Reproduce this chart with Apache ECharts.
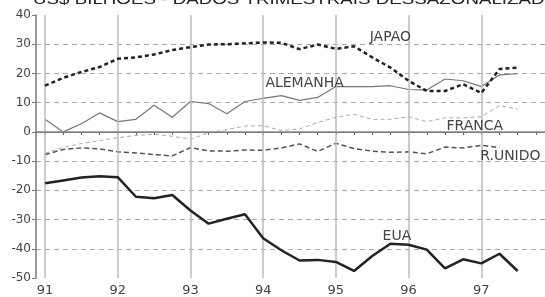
<!DOCTYPE html>
<html>
<head>
<meta charset="utf-8">
<script src="https://cdn.jsdelivr.net/npm/echarts@6/dist/echarts.min.js"></script>
<style>
  html, body { margin: 0; padding: 0; background: #fff; }
  #chart { width: 545px; height: 297px; }
</style>
</head>
<body>
<div id="chart"></div>
<script>
// trimestres 91T1 .. 97T3 (em anos)
const quarters = [91, 91.25, 91.5, 91.75, 92, 92.25, 92.5, 92.75, 93, 93.25, 93.5, 93.75,
  94, 94.25, 94.5, 94.75, 95, 95.25, 95.5, 95.75, 96, 96.25, 96.5, 96.75, 97, 97.25, 97.5];
const years = [91, 92, 93, 94, 95, 96, 97];

const japao = [15.8, 18.5, 20.5, 22.2, 25, 25.5, 26.5, 28, 29, 29.9, 30, 30.3,
  30.6, 30.5, 28.3, 29.9, 28.4, 29.3, 25.5, 22, 17.5, 14, 14, 16.3, 13.3, 21.5, 22];
const alemanha = [4.3, 0, 2.8, 6.5, 3.5, 4.3, 9.1, 5, 10.4, 9.7, 6.2, 10.4,
  11.5, 12.4, 10.8, 11.8, 15.5, 15.5, 15.5, 15.8, 14.5, 14.3, 18.1, 17.5, 15.5, 19.5, 19.9];
const franca = [-7.3, -5.3, -4, -3, -2, -1.2, -0.8, -1.5, -2.5, -0.3, 0.8, 2,
  2.1, 0.5, 1, 3.2, 5, 6, 4.3, 4.3, 5.2, 3.5, 4.8, 4.8, 5.2, 9, 7.8];
const runido = [-7.8, -6, -5.5, -5.8, -6.8, -7.2, -7.8, -8.2, -5.4, -6.5, -6.6, -6.2,
  -6.3, -5.5, -4.1, -6.7, -3.9, -5.7, -6.6, -7, -6.8, -7.5, -5.2, -5.5, -4.6, -5.4];
const eua = [-17.6, -16.6, -15.6, -15.2, -15.5, -22.2, -22.7, -21.6, -26.9, -31.4, -29.7, -28.2,
  -36.4, -40.5, -44, -43.8, -44.5, -47.6, -42.5, -38.3, -38.6, -40.3, -46.7, -43.6, -45, -41.7, -47.6];

const tickQuarters = quarters.concat([97.75]);

function pairs(vals) {
  return vals.map((v, i) => [quarters[i], v]);
}

// rotulo de serie, ancorado em coordenadas de dados
function tag(name, x, y) {
  return {
    symbol: 'circle',
    symbolSize: 0,
    silent: true,
    label: {
      show: true, position: 'inside', formatter: name,
      fontFamily: 'DejaVu Sans', fontSize: 14, color: '#444'
    },
    data: [{ coord: [x, y] }]
  };
}

const chart = echarts.init(document.getElementById('chart'));
chart.setOption({
  animation: false,
  backgroundColor: '#fff',
  graphic: [{
    type: 'text', left: 33, top: -8, scaleX: 1.25,
    style: {
      text: 'US$ BILHÕES - DADOS TRIMESTRAIS DESSAZONALIZADOS',
      font: '15px "Liberation Sans"', fill: '#222'
    }
  }],
  grid: { left: 36, right: 0, top: 15, bottom: 13 },
  xAxis: {
    type: 'value', min: 90.876, max: 97.876,
    axisLine: { lineStyle: { color: '#555', width: 1 } },
    axisTick: { show: true, customValues: tickQuarters, length: 3, lineStyle: { color: '#555' } },
    axisLabel: {
      customValues: years, margin: 6, color: '#444',
      fontFamily: 'DejaVu Sans', fontSize: 13,
      formatter: v => String(Math.round(v))
    },
    splitLine: { show: false }
  },
  yAxis: {
    type: 'value', min: -50, max: 40, interval: 10,
    axisLine: { show: true, lineStyle: { color: '#999', width: 2 } },
    axisTick: { show: true, length: 4, lineStyle: { color: '#777' } },
    axisLabel: { margin: 5, color: '#444', fontFamily: 'DejaVu Sans', fontSize: 12 },
    splitLine: { showMaxLine: false, showMinLine: false, lineStyle: { color: '#aaa', type: [5, 4], width: 1 } }
  },
  series: [
    {
      type: 'line', data: [], z: 1, silent: true,
      markLine: {
        silent: true, symbol: ['none', 'none'], label: { show: false },
        lineStyle: { color: '#bbb', type: 'solid', width: 1.5 },
        data: years.map(y => ({ xAxis: y })).concat([{ yAxis: 0, lineStyle: { color: '#888', type: 'solid', width: 1.5 } }])
      }
    },
    {
      name: 'FRANCA', type: 'line', data: pairs(franca), z: 2, showSymbol: false,
      lineStyle: { color: '#aaa', width: 1, type: [4, 3] },
      markPoint: tag('FRANCA', 96.91, 1.8)
    },
    {
      name: 'ALEMANHA', type: 'line', data: pairs(alemanha), z: 3, showSymbol: false,
      lineStyle: { color: '#777', width: 1.2 },
      markPoint: tag('ALEMANHA', 94.57, 16.6)
    },
    {
      name: 'R.UNIDO', type: 'line', data: pairs(runido), z: 4, showSymbol: false,
      lineStyle: { color: '#555', width: 1.5, type: [5, 3] },
      markPoint: tag('R.UNIDO', 97.4, -8.4)
    },
    {
      name: 'JAPAO', type: 'line', data: pairs(japao), z: 5, showSymbol: false,
      lineStyle: { color: '#222', width: 2.5, type: [4, 3] },
      markPoint: tag('JAPAO', 95.75, 32.4)
    },
    {
      name: 'EUA', type: 'line', data: pairs(eua), z: 6, showSymbol: false,
      lineStyle: { color: '#222', width: 2.5 },
      markPoint: tag('EUA', 95.84, -35.6)
    }
  ]
});
</script>
</body>
</html>
